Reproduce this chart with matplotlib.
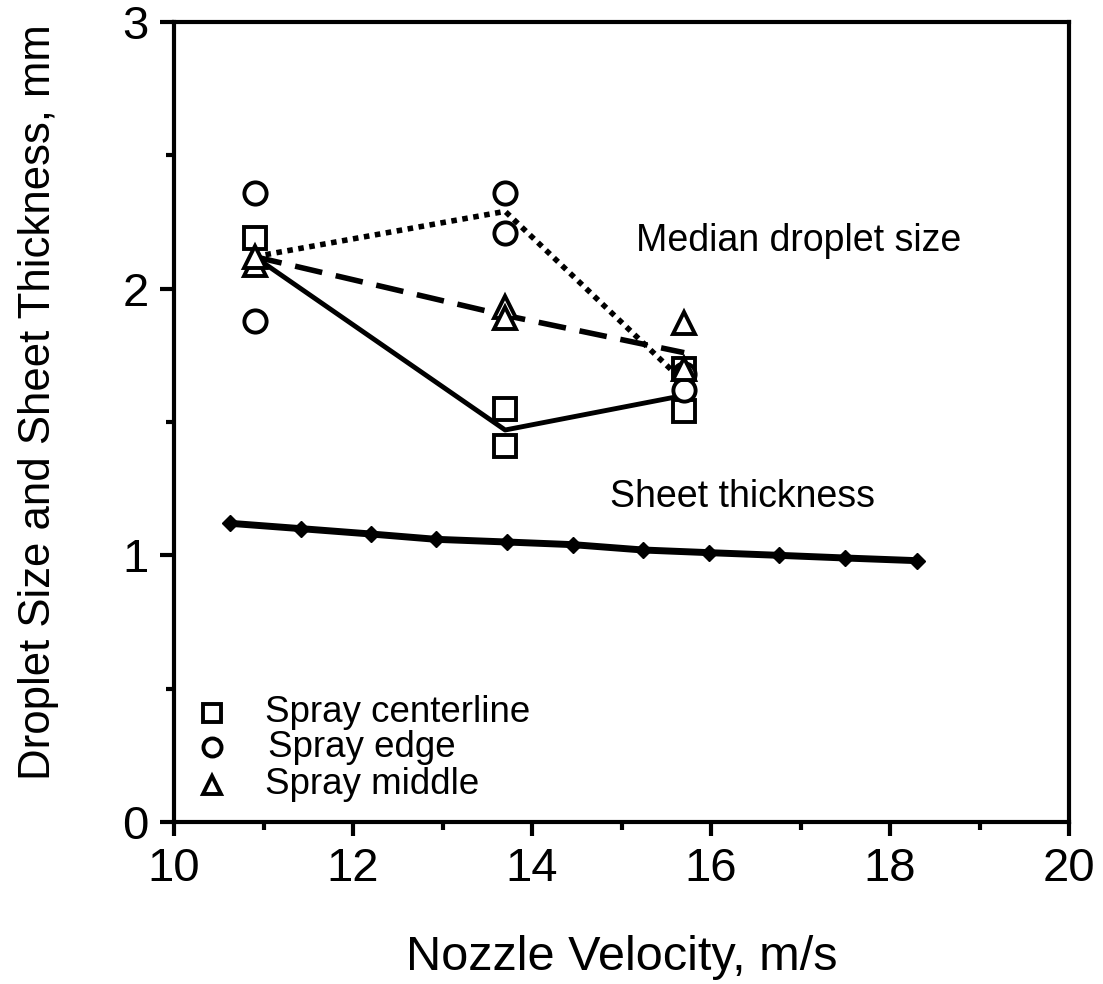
import matplotlib
matplotlib.use("Agg")
import matplotlib.pyplot as plt
from matplotlib.ticker import MultipleLocator

plt.rcParams['font.family'] = ['Liberation Sans', 'DejaVu Sans']

# Measured points
center_x = [10.9, 13.7, 13.7, 15.7, 15.7]
center_y = [2.19, 1.55, 1.41, 1.70, 1.54]
edge_x = [10.9, 10.9, 13.7, 13.7, 15.7, 15.7]
edge_y = [2.36, 1.88, 2.36, 2.21, 1.68, 1.62]
middle_x = [10.9, 10.9, 13.7, 13.7, 15.7, 15.7]
middle_y = [2.09, 2.12, 1.93, 1.89, 1.87, 1.70]

# Mean lines
line_x = [10.9, 13.7, 15.7]
center_mean = [2.12, 1.47, 1.60]
edge_mean = [2.12, 2.29, 1.65]
middle_mean = [2.12, 1.90, 1.76]

# Sheet thickness
sheet_x = [10.63, 11.42, 12.2, 12.93, 13.72, 14.46, 15.24, 15.98, 16.76, 17.5, 18.3]
sheet_y = [1.12, 1.10, 1.08, 1.06, 1.05, 1.04, 1.02, 1.01, 1.00, 0.99, 0.98]

legend_labels = ["Spray centerline", "Spray edge", "Spray middle"]

fig = plt.figure(figsize=(11.03, 9.84), dpi=100)
ax = fig.add_axes([174/1103, 1 - 822/984, (1069-174)/1103, (822-22)/984])

ax.plot(line_x, center_mean, color='black', lw=3.5, ls='-')
ax.plot(line_x, edge_mean, color='black', lw=4, ls=(0, (1, 1)))
ax.plot(line_x, middle_mean, color='black', lw=4, ls=(0, (5, 2.5)))

mk = dict(ms=16, mfc='white', mec='black', mew=2.8, ls='none')
ax.plot(center_x, center_y, marker='s', **mk)
ax.plot(edge_x, edge_y, marker='o', **mk)
ax.plot(middle_x, middle_y, marker='^', **mk)

ax.plot(sheet_x, sheet_y, color='black', lw=5, marker='D', ms=8)

ax.text(16.98, 2.18, "Median droplet size", fontsize=27, ha='center', va='center')
ax.text(16.35, 1.22, "Sheet thickness", fontsize=27, ha='center', va='center')

# legend
leg_y = [0.41, 0.28, 0.14]
leg_x_text = [11.02, 11.05, 11.02]
leg_m = ['s', 'o', '^']
for yy, xt, m, lab in zip(leg_y, leg_x_text, leg_m, legend_labels):
    ax.plot([10.43], [yy], marker=m, ms=13, mfc='white', mec='black', mew=2.8, ls='none')
    ax.text(xt, yy, lab, fontsize=26.5, ha='left', va='center')

ax.set_xlim(10, 20)
ax.set_ylim(0, 3)
ax.xaxis.set_major_locator(MultipleLocator(2))
ax.xaxis.set_minor_locator(MultipleLocator(1))
ax.yaxis.set_major_locator(MultipleLocator(1))
ax.yaxis.set_minor_locator(MultipleLocator(0.5))
ax.tick_params(which='major', direction='out', length=10, width=3, labelsize=34, pad=8)
ax.tick_params(which='minor', direction='out', length=6, width=3)
ax.tick_params(top=False, right=False)
for s in ax.spines.values():
    s.set_linewidth(3)

ax.set_xlabel("Nozzle Velocity, m/s", fontsize=35, labelpad=32)
ax.set_ylabel("Droplet Size and Sheet Thickness, mm", fontsize=31.5)
ax.yaxis.set_label_coords(-0.128, 0.525)

fig.savefig("out.png", dpi=100)
